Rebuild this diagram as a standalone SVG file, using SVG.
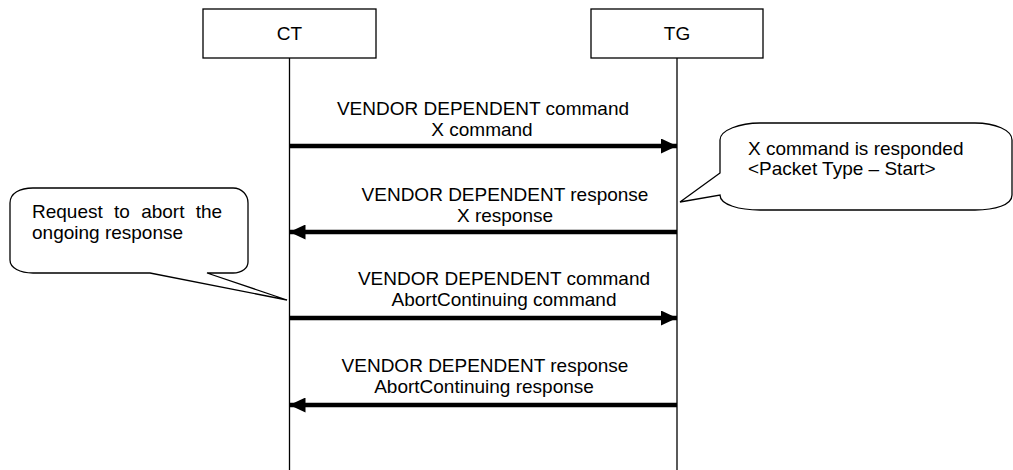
<svg xmlns="http://www.w3.org/2000/svg" width="1013" height="470" viewBox="0 0 1013 470">
<style>
  .box { fill: #fff; stroke: #000; stroke-width: 1.3; }
  .life { stroke: #000; stroke-width: 1.3; fill: none; }
  .msg { stroke: #000; stroke-width: 4.5; fill: none; }
  .bubble { fill: #fff; stroke: #000; stroke-width: 1.3; stroke-linejoin: miter; }
  text { font-family: "Liberation Sans", Arial, sans-serif; font-size: 19px; fill: #000; }
  .c { text-anchor: middle; }
</style>
<defs>
  <marker id="ah" viewBox="0 0 16 15" refX="16" refY="7.5" markerWidth="16" markerHeight="15" markerUnits="userSpaceOnUse" orient="auto">
    <polygon points="0,0 16,7.5 0,15" fill="#000"/>
  </marker>
</defs>
<rect width="1013" height="470" fill="#fff"/>
<g id="CT">
  <rect class="box" x="203" y="9" width="173" height="49"/>
  <text class="c" x="289.5" y="40">CT</text>
  <line class="life" x1="289.5" y1="58" x2="289.5" y2="470"/>
</g>
<g id="TG">
  <rect class="box" x="591" y="9" width="172" height="49"/>
  <text class="c" x="677" y="40">TG</text>
  <line class="life" x1="677" y1="58" x2="677" y2="470"/>
</g>
<g id="connectors">
  <line class="msg" x1="289.5" y1="146" x2="677" y2="146" marker-end="url(#ah)"/>
  <line class="msg" x1="677" y1="232" x2="289.5" y2="232" marker-end="url(#ah)"/>
  <line class="msg" x1="289.5" y1="318" x2="677" y2="318" marker-end="url(#ah)"/>
  <line class="msg" x1="677" y1="405" x2="289.5" y2="405" marker-end="url(#ah)"/>
</g>
<g id="labels">
  <text class="c" x="483" y="115">VENDOR DEPENDENT command</text>
  <text class="c" x="482" y="136">X command</text>
  <text class="c" x="505" y="201">VENDOR DEPENDENT response</text>
  <text class="c" x="505" y="222">X response</text>
  <text class="c" x="504" y="285">VENDOR DEPENDENT command</text>
  <text class="c" x="504" y="306">AbortContinuing command</text>
  <text class="c" x="485" y="372">VENDOR DEPENDENT response</text>
  <text class="c" x="484" y="393">AbortContinuing response</text>
</g>
<g id="note-tg">
  <path class="bubble" d="M 720 173 L 680 202 L 720 195 C 720 205, 740 210, 760 210 L 975 210 C 995 210, 1012 205, 1012 195 L 1012 140 C 1012 130, 995 123, 975 123 L 760 123 C 740 123, 720 130, 720 140 Z"/>
  <text x="748" y="155">X command is responded</text>
  <text x="748" y="175">&lt;Packet Type – Start&gt;</text>
</g>
<g id="note-ct">
  <path class="bubble" d="M 10 203 C 10 193, 20 188, 33 188 L 233 188 C 242 188, 248 195, 248 203 L 248 262 C 248 268, 242 273, 233 273 L 207 273 L 287 300 L 150 273 L 33 273 C 20 273, 10 268, 10 260 Z"/>
  <text x="32" y="218" word-spacing="6">Request to abort the</text>
  <text x="32" y="239">ongoing response</text>
</g>
</svg>
